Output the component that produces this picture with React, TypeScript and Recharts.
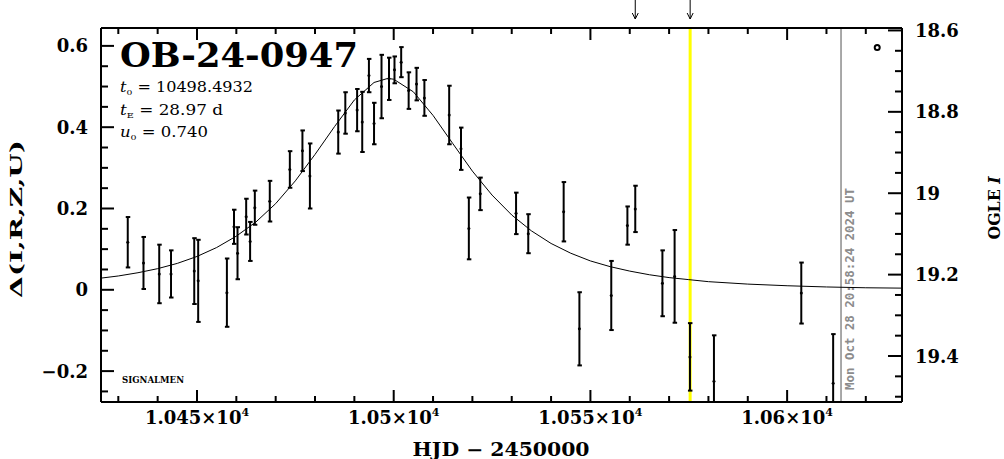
import React from 'react';
import { ComposedChart, XAxis, YAxis, Scatter, Line, ReferenceLine, ReferenceDot } from 'recharts';

// Observations (HJD - 2450000, delta magnitude, error)
const hjd = [10432.4, 10436.4, 10440.4, 10443.4, 10449.3, 10450.3, 10457.6, 10459.4, 10460.3, 10462.5, 10463.5, 10464.7, 10468.5, 10473.6, 10476.8, 10478.7, 10485.9, 10487.7, 10490.7, 10492.0, 10493.7, 10495.0, 10496.9, 10498.8, 10500.2, 10501.9, 10503.8, 10505.8, 10507.8, 10514.1, 10517.1, 10519.1, 10522.0, 10531.1, 10534.2, 10543.2, 10547.2, 10555.3, 10559.4, 10561.4, 10568.3, 10571.4, 10575.3, 10581.4, 10603.6, 10611.7];
const delta = [0.117, 0.066, 0.039, 0.039, 0.046, 0.022, -0.007, 0.155, 0.090, 0.180, 0.119, 0.202, 0.218, 0.296, 0.342, 0.280, 0.388, 0.435, 0.442, 0.413, 0.527, 0.409, 0.500, 0.519, 0.541, 0.560, 0.490, 0.506, 0.472, 0.430, 0.347, 0.151, 0.236, 0.188, 0.138, 0.192, -0.096, -0.014, 0.158, 0.199, 0.016, 0.033, -0.165, -0.225, -0.008, -0.230];
const deltaErr = [0.062, 0.064, 0.072, 0.058, 0.081, 0.101, 0.084, 0.042, 0.064, 0.044, 0.048, 0.042, 0.050, 0.045, 0.050, 0.080, 0.053, 0.051, 0.052, 0.074, 0.041, 0.051, 0.078, 0.052, 0.033, 0.037, 0.045, 0.040, 0.044, 0.072, 0.052, 0.076, 0.040, 0.051, 0.048, 0.073, 0.090, 0.085, 0.047, 0.057, 0.081, 0.114, 0.083, 0.113, 0.075, 0.121];

// Model curve
const modelHjd = [10425, 10430, 10435, 10440, 10445, 10450, 10455, 10460, 10465, 10470, 10475, 10480, 10485, 10490, 10495, 10498.5, 10500, 10505, 10510, 10515, 10520, 10525, 10530, 10535, 10540, 10545, 10550, 10555, 10560, 10565, 10570, 10575, 10580, 10590, 10600, 10610, 10620, 10630];
const modelDelta = [0.028, 0.034, 0.042, 0.052, 0.065, 0.082, 0.104, 0.132, 0.167, 0.212, 0.268, 0.333, 0.402, 0.467, 0.510, 0.520, 0.518, 0.487, 0.429, 0.360, 0.292, 0.233, 0.184, 0.145, 0.114, 0.090, 0.071, 0.057, 0.046, 0.037, 0.030, 0.025, 0.020, 0.014, 0.010, 0.007, 0.005, 0.004];

// Ticks
const xTicksAll = [10430, 10440, 10450, 10460, 10470, 10480, 10490, 10500, 10510, 10520, 10530, 10540, 10550, 10560, 10570, 10580, 10590, 10600, 10610, 10620];
const xMajorTicks = [10450, 10500, 10550, 10600];
const xMajorLabels = ['1.045', '1.05', '1.055', '1.06'];
const yTicksAll = [-0.25, -0.2, -0.15, -0.1, -0.05, 0, 0.05, 0.1, 0.15, 0.2, 0.25, 0.3, 0.35, 0.4, 0.45, 0.5, 0.55, 0.6];
const yMajorTicks = [-0.2, 0, 0.2, 0.4, 0.6];
const yMajorLabels = ['\u22120.2', '0', '0.2', '0.4', '0.6'];
const magTicksAll = [18.6, 18.65, 18.7, 18.75, 18.8, 18.85, 18.9, 18.95, 19, 19.05, 19.1, 19.15, 19.2, 19.25, 19.3, 19.35, 19.4, 19.45, 19.5];
const magMajorTicks = [18.6, 18.8, 19, 19.2, 19.4];
const magMajorLabels = ['18.6', '18.8', '19', '19.2', '19.4'];

const xDomain = [10425.6, 10629.2];
const yDomain = [-0.276, 0.644];
const magDomain = [18.594, 19.513];

const yellowEpoch = 10575.35;
const arrowEpochs = [10561.4, 10575.35];
const nowEpoch = 10613.7;
const nowLabel = 'Mon Oct 28 20:58:24 2024 UT';
const ogleMarker = { t: 10622.9, d: 0.596 };

const eventName = 'OB-24-0947';
const t0Value = '10498.4932';
const tEValue = '28.97 d';
const u0Value = '0.740';

const points = hjd.map((t, i) => ({ t, d: delta[i] }));
const errorSegments = hjd.map((t, i) => [
  { t, d: delta[i] - deltaErr[i] },
  { t, d: delta[i] + deltaErr[i] },
]);
const model = modelHjd.map((t, i) => ({ t, d: modelDelta[i] }));

const SERIF = '"DejaVu Serif", serif';
const axisStyle = { stroke: '#000', strokeWidth: 2 };

const BottomTick = (props: any) => {
  const { x, y, payload } = props;
  const i = xMajorTicks.indexOf(payload.value);
  const major = i >= 0;
  return (
    <g>
      <line x1={x} x2={x} y1={y} y2={y - (major ? 12 : 6)} stroke="#000" strokeWidth={2} />
      {major && (
        <text x={x} y={y + 22} textAnchor="middle" fontFamily={SERIF} fontWeight="bold" fontSize={18} fill="#000">
          {xMajorLabels[i]}×10<tspan dy={-8} fontSize={11}>4</tspan>
        </text>
      )}
    </g>
  );
};

const TopTick = (props: any) => {
  const { x, y, payload } = props;
  const major = xMajorTicks.indexOf(payload.value) >= 0;
  return <line x1={x} x2={x} y1={y} y2={y + (major ? 12 : 6)} stroke="#000" strokeWidth={2} />;
};

const LeftTick = (props: any) => {
  const { x, y, payload } = props;
  const i = yMajorTicks.indexOf(payload.value);
  const major = i >= 0;
  return (
    <g>
      <line x1={x} x2={x + (major ? 13 : 7)} y1={y} y2={y} stroke="#000" strokeWidth={2} />
      {major && (
        <text x={x - 13} y={y + 6.5} textAnchor="end" fontFamily={SERIF} fontWeight="bold" fontSize={18} fill="#000">
          {yMajorLabels[i]}
        </text>
      )}
    </g>
  );
};

const RightTick = (props: any) => {
  const { x, y, payload } = props;
  const i = magMajorTicks.indexOf(payload.value);
  const major = i >= 0;
  return (
    <g>
      <line x1={x} x2={x - (major ? 14 : 7)} y1={y} y2={y} stroke="#000" strokeWidth={2} />
      {major && (
        <text x={x + 13} y={y + 6.5} textAnchor="start" fontFamily={SERIF} fontWeight="bold" fontSize={18} fill="#000">
          {magMajorLabels[i]}
        </text>
      )}
    </g>
  );
};

const arrowLabel = (p: any) => {
  const vb = p.viewBox || {};
  const x = vb.x;
  const top = vb.y;
  return (
    <g>
      <line x1={x} x2={x} y1={top - 28} y2={top - 9} stroke="#000" strokeWidth={1} />
      <polyline points={`${x - 3},${top - 15} ${x},${top - 9} ${x + 3},${top - 15}`} fill="none" stroke="#000" strokeWidth={1} />
    </g>
  );
};

const nowTextLabel = (p: any) => {
  const vb = p.viewBox || {};
  const x = vb.x + 13;
  const y = vb.y + vb.height - 12;
  return (
    <text
      x={x}
      y={y}
      transform={`rotate(-90 ${x} ${y})`}
      fontFamily='"DejaVu Sans Mono", monospace'
      fontWeight="bold"
      fontSize={12}
      fill="#8c8c8c"
      textLength={202}
      lengthAdjust="spacingAndGlyphs"
    >
      {nowLabel}
    </text>
  );
};

const dotShape = (p: any) => <circle cx={p.cx} cy={p.cy} r={1.5} fill="#000" />;
const capDot = (p: any) => (
  <line key={p.index} x1={p.cx - 2} x2={p.cx + 2.5} y1={p.cy} y2={p.cy} stroke="#000" strokeWidth={2} />
);

export default function App() {
  return (
    <div style={{ position: 'absolute', left: 0, top: 0, width: 1004, height: 459, background: '#fff' }}>
      <ComposedChart width={1004} height={459} margin={{ top: 27, right: 42, bottom: 17, left: 41 }}>
        <XAxis xAxisId="b" dataKey="t" type="number" scale="linear" domain={xDomain} allowDataOverflow ticks={xTicksAll} interval={0} tickSize={0} tickMargin={0} tickLine={false} axisLine={axisStyle} tick={<BottomTick />} height={40} />
        <XAxis xAxisId="top" orientation="top" dataKey="t" type="number" scale="linear" domain={xDomain} allowDataOverflow ticks={xTicksAll} interval={0} tickSize={0} tickMargin={0} tickLine={false} axisLine={axisStyle} tick={<TopTick />} height={1} />
        <YAxis yAxisId="l" type="number" scale="linear" domain={yDomain} allowDataOverflow ticks={yTicksAll} interval={0} tickSize={0} tickMargin={0} tickLine={false} axisLine={axisStyle} tick={<LeftTick />} width={60} />
        <YAxis yAxisId="r" orientation="right" type="number" scale="linear" domain={magDomain} reversed allowDataOverflow ticks={magTicksAll} interval={0} tickSize={0} tickMargin={0} tickLine={false} axisLine={axisStyle} tick={<RightTick />} width={60} />

        <ReferenceLine xAxisId="b" yAxisId="l" x={yellowEpoch} stroke="#ffff00" strokeWidth={3} />
        <ReferenceLine xAxisId="b" yAxisId="l" x={nowEpoch} stroke="#8c8c8c" strokeWidth={1.5} label={nowTextLabel} />
        {arrowEpochs.map((a) => (
          <ReferenceLine key={a} xAxisId="b" yAxisId="l" x={a} stroke="none" strokeOpacity={0} label={arrowLabel} />
        ))}

        <Line xAxisId="b" yAxisId="l" data={model} dataKey="d" type="linear" stroke="#000" strokeWidth={1} dot={false} activeDot={false} isAnimationActive={false} />
        {errorSegments.map((seg, i) => (
          <Line
            key={'err' + i}
            xAxisId="b"
            yAxisId="l"
            data={seg}
            dataKey="d"
            type="linear"
            stroke="#000"
            strokeWidth={2}
            dot={capDot}
            activeDot={false}
            isAnimationActive={false}
          />
        ))}
        <Scatter xAxisId="b" yAxisId="l" data={points} dataKey="d" shape={dotShape} isAnimationActive={false} />
        <ReferenceDot xAxisId="b" yAxisId="l" x={ogleMarker.t} y={ogleMarker.d} r={2.5} fill="#fff" stroke="#000" strokeWidth={2} />
      </ComposedChart>

      <svg width={1004} height={459} style={{ position: 'absolute', left: 0, top: 0, pointerEvents: 'none' }}>
        <text x={120} y={67} fontFamily={SERIF} fontWeight="bold" fontSize={33} fill="#000" textLength={238} lengthAdjust="spacingAndGlyphs">
          {eventName}
        </text>
        <text x={120} y={92} fontFamily={SERIF} fontSize={14} fill="#000" textLength={133} lengthAdjust="spacingAndGlyphs">
          <tspan fontStyle="italic">t</tspan>
          <tspan fontSize={8} dy={3}>0</tspan>
          <tspan dy={-3}>{' = ' + t0Value}</tspan>
        </text>
        <text x={120} y={115} fontFamily={SERIF} fontSize={14} fill="#000" textLength={103} lengthAdjust="spacingAndGlyphs">
          <tspan fontStyle="italic">t</tspan>
          <tspan fontSize={8} dy={3}>E</tspan>
          <tspan dy={-3}>{' = ' + tEValue}</tspan>
        </text>
        <text x={120} y={137} fontFamily={SERIF} fontSize={14} fill="#000" textLength={88} lengthAdjust="spacingAndGlyphs">
          <tspan fontStyle="italic">u</tspan>
          <tspan fontSize={8} dy={3}>0</tspan>
          <tspan dy={-3}>{' = ' + u0Value}</tspan>
        </text>
        <text x={122} y={383} fontFamily={SERIF} fontWeight="bold" fontSize={9} fill="#000" textLength={62} lengthAdjust="spacingAndGlyphs">
          SIGNALMEN
        </text>
        <text x={22} y={219} transform="rotate(-90 22 219)" textAnchor="middle" fontFamily={SERIF} fontWeight="bold" fontSize={17} fill="#000" textLength={158} lengthAdjust="spacingAndGlyphs">
          Δ(I,R,Z,U)
        </text>
        <text x={1000} y={208} transform="rotate(-90 1000 208)" textAnchor="middle" fontFamily={SERIF} fontWeight="bold" fontSize={16} fill="#000" textLength={63} lengthAdjust="spacingAndGlyphs">
          OGLE <tspan fontStyle="italic">I</tspan>
        </text>
        <text x={501} y={456} textAnchor="middle" fontFamily={SERIF} fontWeight="bold" fontSize={18} fill="#000" textLength={177} lengthAdjust="spacingAndGlyphs">
          HJD − 2450000
        </text>
      </svg>
    </div>
  );
}
